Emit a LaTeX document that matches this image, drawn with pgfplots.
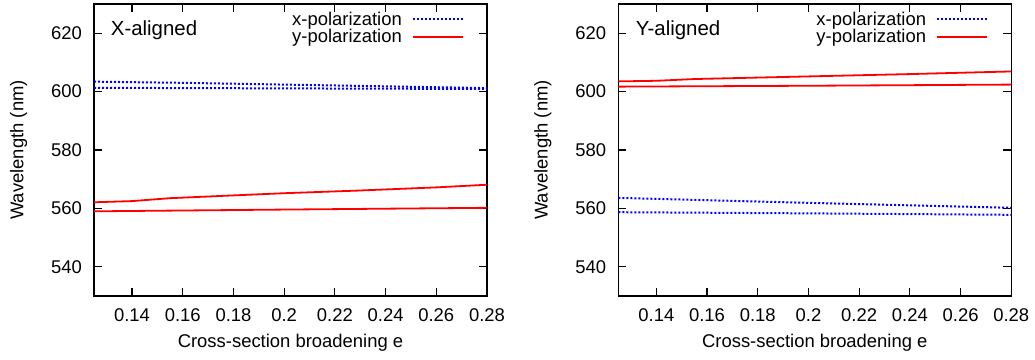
\documentclass[border=0pt]{standalone}
\usepackage{fontspec}
\setmainfont{Liberation Sans}
\usepackage{pgfplots}
\pgfplotsset{compat=1.18}
\pgfplotsset{
 panel/.style={
  scale only axis, width=393bp, height=292bp,
  xmin=0.125, xmax=0.28, ymin=530, ymax=630,
  xtick={0.14,0.16,0.18,0.2,0.22,0.24,0.26,0.28},
  xticklabels={0.14,0.16,0.18,0.2,0.22,0.24,0.26,0.28},
  ytick={540,560,580,600,620},
  yticklabels={540,560,580,600,620},
  tick align=inside, major tick length=8bp,
  axis line style={line width=1.5bp},
  every tick/.style={line width=1.2bp, black},
  font=\fontsize{18.5}{20}\selectfont,
  /pgf/number format/assume math mode=true,
  xticklabel style={anchor=center, inner sep=0pt, yshift=-19bp},
  yticklabel style={anchor=east, inner sep=0pt, xshift=-12bp},
  xlabel={Cross-section broadening e}, ylabel={Wavelength (nm)},
  every axis x label/.style={at={(axis description cs:0.5,-0.161)}, anchor=center},
  every axis y label/.style={at={(axis description cs:-0.192,0.5)}, anchor=center, rotate=90},
 },
 xpolline/.style={draw=blue, line width=2bp, dash pattern=on 2bp off 2bp},
 ypolline/.style={draw=red, line width=1.8bp},
}
\newcommand{\panellegend}{%
  \node[anchor=base east, inner sep=0pt] at (axis description cs:0.7837,0.9257) {x-polarization};
  \node[anchor=base east, inner sep=0pt] at (axis description cs:0.7837,0.8682) {y-polarization};
  \draw[blue, line width=2bp, dash pattern=on 2bp off 2bp] (axis description cs:0.8117,0.9486) -- (axis description cs:0.9389,0.9486);
  \draw[red, line width=1.8bp] (axis description cs:0.8117,0.8860) -- (axis description cs:0.9389,0.8860);
}
\begin{document}
\begin{tikzpicture}
\useasboundingbox (0,0) rectangle (1035bp,360bp);
\begin{axis}[panel, at={(94bp,64bp)}, anchor=south west]
\addplot[xpolline] coordinates {(0.125,603.4) (0.16,603.0) (0.2,602.4) (0.24,601.8) (0.28,601.2)};
\addplot[ypolline] coordinates {(0.125,562.1) (0.14,562.5) (0.155,563.5) (0.176,564.3) (0.2,565.2) (0.229,566.1) (0.26,567.2) (0.28,568.1)};
\addplot[xpolline] coordinates {(0.125,601.3) (0.2,601.1) (0.28,600.9)};
\addplot[ypolline] coordinates {(0.125,559.0) (0.2,559.6) (0.28,560.2)};
\node[anchor=base west, inner sep=0pt, font=\fontsize{20.5}{22}\selectfont] at (axis description cs:0.0425,0.8914) {X-aligned};
\panellegend
\end{axis}
\begin{axis}[panel, at={(618.3bp,64bp)}, anchor=south west]
\addplot[xpolline] coordinates {(0.125,563.6) (0.2,561.9) (0.28,560.2)};
\addplot[ypolline] coordinates {(0.125,603.5) (0.14,603.7) (0.155,604.3) (0.2,605.2) (0.24,606.0) (0.28,606.9)};
\addplot[xpolline] coordinates {(0.125,558.7) (0.2,558.3) (0.28,557.8)};
\addplot[ypolline] coordinates {(0.125,601.7) (0.2,602.0) (0.28,602.4)};
\node[anchor=base west, inner sep=0pt, font=\fontsize{20.5}{22}\selectfont] at (axis description cs:0.0442,0.8914) {Y-aligned};
\panellegend
\end{axis}
\end{tikzpicture}
\end{document}
